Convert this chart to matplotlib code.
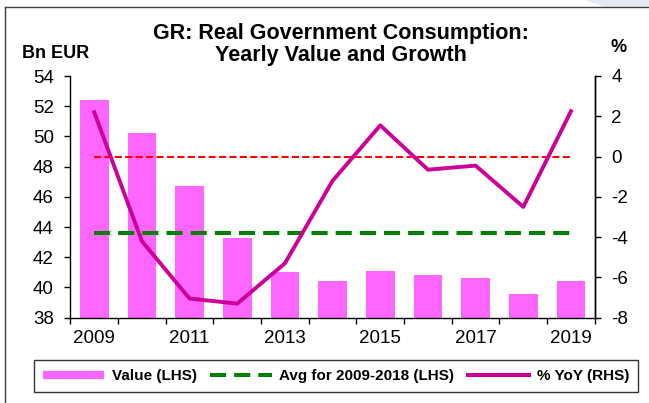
import matplotlib

matplotlib.use("Agg")
import matplotlib.pyplot as plt
from matplotlib.lines import Line2D
from matplotlib.patches import Polygon

plt.rcParams["font.family"] = ["Liberation Sans", "DejaVu Sans"]

# data
years = [2009, 2010, 2011, 2012, 2013, 2014, 2015, 2016, 2017, 2018, 2019]
value_bn = [52.4, 50.2, 46.7, 43.3, 41.0, 40.45, 41.1, 40.8, 40.6, 39.55, 40.45]
yoy_pct = [2.2, -4.2, -7.05, -7.3, -5.3, -1.2, 1.55, -0.65, -0.45, -2.5, 2.25]
avg_2009_2018 = 43.6
label_years = [2009, 2011, 2013, 2015, 2017, 2019]

BAR_COLOR = "#FF66FF"
LINE_COLOR = "#CC0099"
AVG_COLOR = "#008000"
ZERO_COLOR = "#FF0000"

W, H = 649, 403
fig = plt.figure(figsize=(W / 100, H / 100), dpi=100)
fig.patch.set_facecolor("white")

# outer frame (top + left edges only are visible) and faint corner shading
fig.add_artist(Polygon([(585 / W, 1), (1, 1), (1, 1 - 7 / H), (605 / W, 1 - 7 / H)],
                       closed=True, transform=fig.transFigure,
                       facecolor="#E6E8F4", edgecolor="none"))
fig.add_artist(Line2D([5 / W, 1], [1 - 7 / H, 1 - 7 / H], transform=fig.transFigure,
                      color="#404040", lw=1.0))
fig.add_artist(Line2D([5 / W, 5 / W], [0, 1 - 7 / H], transform=fig.transFigure,
                      color="#404040", lw=1.0))

ax = fig.add_axes([70.4 / W, 1 - 317.7 / H, 524.4 / W, 241.7 / H])
x = list(range(len(years)))

ax.bar(x, value_bn, width=0.6, color=BAR_COLOR, zorder=1)
ax.plot([x[0], x[-1]], [avg_2009_2018] * 2, color=AVG_COLOR, lw=2.9,
        dashes=(4, 2), zorder=3)
ax.set_ylim(38, 54)
ax.set_yticks(range(38, 55, 2))
ax.set_xlim(-0.5, len(years) - 0.5)

# category boundary ticks, labels every other year at centres
ax.set_xticks([i - 0.5 for i in range(len(years) + 1)])
ax.set_xticklabels([])
ax.set_xticks([years.index(y) for y in label_years], minor=True)
ax.set_xticklabels([str(y) for y in label_years], minor=True)
ax.tick_params(axis="x", which="major", direction="out", length=4, width=1)
ax.tick_params(axis="x", which="minor", length=0, pad=9, labelsize=13.5)
ax.tick_params(axis="y", direction="out", length=4, width=1, pad=8, labelsize=13.5)

ax2 = ax.twinx()
ax2.plot([x[0], x[-1]], [0, 0], color=ZERO_COLOR, lw=1.5, dashes=(3.4, 1.6), zorder=2)
ax2.plot(x, yoy_pct, color=LINE_COLOR, lw=2.8, zorder=4)
ax2.set_ylim(-8, 4)
ax2.set_yticks(range(-8, 5, 2))
ax2.set_yticklabels([f"{v}" if v >= 0 else f"-{abs(v)}" for v in range(-8, 5, 2)])
ax2.tick_params(axis="y", direction="out", length=4, width=1, pad=8, labelsize=13.5)

for a in (ax, ax2):
    a.spines["top"].set_visible(False)
    for s in ("left", "right", "bottom"):
        a.spines[s].set_linewidth(1.0)
ax2.spines["left"].set_visible(False)
ax2.spines["bottom"].set_visible(False)

fig.text(0.525, 1 - 44.5 / H,
         "GR: Real Government Consumption:\nYearly Value and Growth",
         ha="center", va="center", fontsize=15.5, fontweight="bold", linespacing=1.05)
fig.text(55.5 / W, 1 - 53 / H, "Bn EUR", ha="center", va="center",
         fontsize=13, fontweight="bold")
fig.text(619 / W, 1 - 48 / H, "%", ha="center", va="center",
         fontsize=13, fontweight="bold")

handles = [
    Line2D([], [], color=BAR_COLOR, lw=6, solid_capstyle="butt"),
    Line2D([], [], color=AVG_COLOR, lw=2.9, dashes=(4, 2)),
    Line2D([], [], color=LINE_COLOR, lw=2.9),
]
labels = ["Value (LHS)", "Avg for 2009-2018 (LHS)", "% YoY (RHS)"]
leg = fig.legend(handles, labels, loc="center", ncol=3,
                 bbox_to_anchor=(336 / W, 1 - 376 / H),
                 prop={"weight": "bold", "size": 11}, frameon=True, fancybox=False,
                 edgecolor="black", handlelength=4.0, handletextpad=0.5,
                 columnspacing=0.9, borderpad=0.6)
leg.get_frame().set_linewidth(1.0)

fig.savefig("out.png", dpi=100)
